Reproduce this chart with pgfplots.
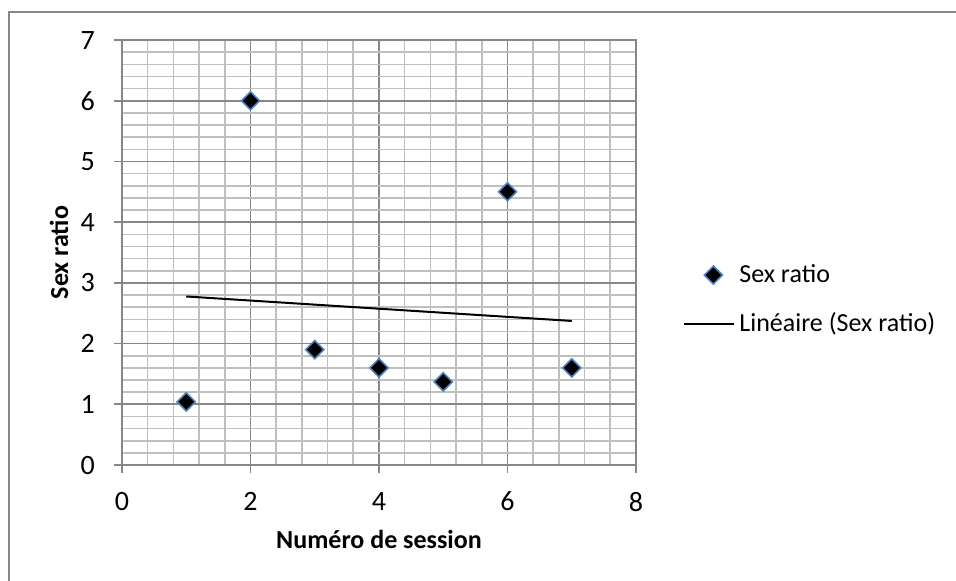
\documentclass[border=0pt]{standalone}
\usepackage{pgfplots}
\pgfplotsset{compat=1.18}
\usepackage{fontspec}
\setmainfont{Carlito}
\definecolor{majgrid}{HTML}{878787}
\definecolor{mingrid}{HTML}{BFBFBF}
\definecolor{mkedge}{HTML}{4F81BD}
\pgfplotsset{
  mklegend/.style={legend image code/.code={\path (0pt,0pt) (25pt,0pt); \draw[##1] plot coordinates {(14.5pt,0pt)};}},
  lnlegend/.style={legend image code/.code={\draw[##1] (0pt,0pt) -- (25pt,0pt);}},
}
\begin{document}
\begin{tikzpicture}[font=\fontsize{13}{15}\selectfont]
\useasboundingbox (-61pt,-57.5pt) rectangle (417pt,232.5pt);
\draw[majgrid, line width=0.75pt] (-56.5pt,-70pt) -- (-56.5pt,226.5pt) -- (430pt,226.5pt);
\begin{axis}[
  at={(0pt,0pt)}, anchor=south west,
  scale only axis, width=257pt, height=212.5pt,
  xmin=0, xmax=8, ymin=0, ymax=7,
  xtick={0,2,4,6,8}, ytick={0,1,2,3,4,5,6,7},
  minor x tick num=4, minor y tick num=4,
  grid=both,
  major grid style={majgrid, line width=0.9pt},
  minor grid style={mingrid, line width=0.8pt},
  axis line style={majgrid, line width=0.9pt},
  tick style={majgrid, line width=0.9pt},
  major tick length=4pt, minor tick length=0pt,
  tick align=outside, xtick pos=bottom, ytick pos=left,
  /pgf/number format/assume math mode=true,
  tick label style={font=\fontsize{14}{16}\selectfont},
  yticklabel style={xshift=-6pt},
  xticklabel style={yshift=-6pt},
  xlabel={Numéro de session},
  ylabel={Sex ratio},
  label style={font=\fontsize{13}{15}\selectfont\bfseries},
  xlabel style={at={(axis description cs:0.5,-0.1953)}, anchor=base},
  ylabel style={at={(axis description cs:-0.10506,0.5)}, anchor=base},
  legend style={at={(rel axis cs:1.0914,0.482)}, anchor=north west, draw=none, fill=none, inner sep=0pt, row sep=9.5pt, font=\fontsize{13}{15}\selectfont},
  legend cell align=left,
]
\addplot[only marks, mark=square*, mark size=3.2pt,
  mark options={rotate=45, fill=black, draw=mkedge, line width=0.8pt}, mklegend]
  coordinates {(1,1.04) (2,6.0) (3,1.9) (4,1.6) (5,1.37) (6,4.5) (7,1.6)};
\addlegendentry{Sex ratio}
\addplot[black, line width=1pt, lnlegend]
  coordinates {(1,2.776) (7,2.373)};
\addlegendentry{Linéaire (Sex ratio)}
\end{axis}
\end{tikzpicture}
\end{document}
